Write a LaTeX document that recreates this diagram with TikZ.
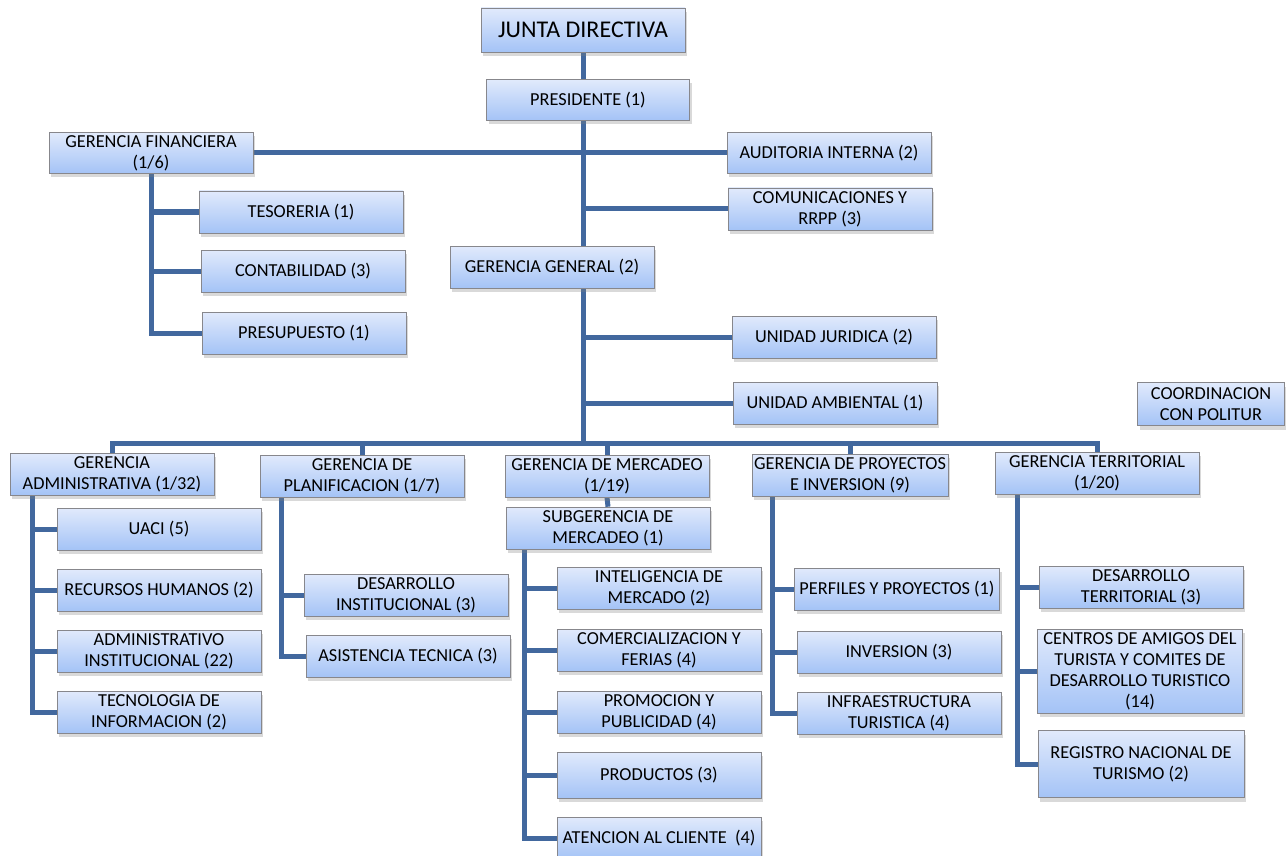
\documentclass[tikz,border=0pt]{standalone}
\usepackage{fontspec}
\setmainfont{Carlito}
\usetikzlibrary{positioning,shadows,backgrounds}
\definecolor{boxtop}{RGB}{225,234,252}
\definecolor{boxbot}{RGB}{164,195,246}
\definecolor{boxline}{RGB}{135,135,140}
\definecolor{linkblue}{RGB}{66,104,158}
\newcommand\orgfont{\fontsize{18.3}{21}\selectfont}
\tikzset{x=1pt, y=-1pt,
unit/.style ={draw=boxline, semithick, top color=boxtop, bottom color=boxbot,
  drop shadow={shadow xshift=2pt, shadow yshift=-4pt, opacity=0.3},
  minimum width=204pt, minimum height=42pt, inner sep=1pt, align=center, font=\orgfont},
link/.style ={draw=linkblue, line width=5pt}}

\begin{document}
\begin{tikzpicture}
\useasboundingbox (0,0) rectangle (1286,856);
\node[unit, minimum height=44pt, font=\fontsize{24}{28}\selectfont] (jd) at (583,30) {JUNTA DIRECTIVA};
\node[unit, minimum width=203pt, minimum height=41pt] (pres) at (588,100) {PRESIDENTE (1)};
\node[unit, minimum height=41pt] (fin) at (151,153) {GERENCIA FINANCIERA\\(1/6)};
\node[unit, minimum height=41pt] (aud) at (829,153) {AUDITORIA INTERNA (2)};
\node[unit] (com) at (830,209) {COMUNICACIONES Y\\RRPP (3)};
\node[unit] (tes) at (301,212) {TESORERIA (1)};
\node[unit] (con) at (303,271) {CONTABILIDAD (3)};
\node[unit] (pre) at (304,333) {PRESUPUESTO (1)};
\node[unit] (gg) at (552,267) {GERENCIA GENERAL (2)};
\node[unit] (jur) at (834,337) {UNIDAD JURIDICA (2)};
\node[unit] (amb) at (835,403) {UNIDAD AMBIENTAL (1)};
\node[unit, minimum width=147pt, minimum height=43pt] (pol) at (1211,404) {COORDINACION\\CON POLITUR};
\node[unit] (adm) at (112,474) {GERENCIA\\ADMINISTRATIVA (1/32)};
\node[unit] (pla) at (362,476) {GERENCIA DE\\PLANIFICACION (1/7)};
\node[unit] (mer) at (607,476) {GERENCIA DE MERCADEO\\(1/19)};
\node[unit, minimum width=196pt] (pro) at (850,475) {GERENCIA DE PROYECTOS\\E INVERSION (9)};
\node[unit] (ter) at (1097,473) {GERENCIA TERRITORIAL\\(1/20)};
\node[unit] (sub) at (608,528) {SUBGERENCIA DE\\MERCADEO (1)};
\node[unit] (uaci) at (159,529) {UACI (5)};
\node[unit] (rh) at (159,590) {RECURSOS HUMANOS (2)};
\node[unit] (ai) at (159,651) {ADMINISTRATIVO\\INSTITUCIONAL (22)};
\node[unit] (ti) at (159,712) {TECNOLOGIA DE\\INFORMACION (2)};
\node[unit] (di) at (406,595) {DESARROLLO\\INSTITUCIONAL (3)};
\node[unit] (at) at (408,656) {ASISTENCIA TECNICA (3)};
\node[unit] (im) at (659,588) {INTELIGENCIA DE\\MERCADO (2)};
\node[unit] (cf) at (659,650) {COMERCIALIZACION Y\\FERIAS (4)};
\node[unit] (pp) at (659,712) {PROMOCION Y\\PUBLICIDAD (4)};
\node[unit, minimum height=46pt] (prd) at (659,775) {PRODUCTOS (3)};
\node[unit] (ac) at (659,838) {ATENCION AL CLIENTE\ \ (4)};
\node[unit, minimum width=205pt] (pyp) at (897,589) {PERFILES Y PROYECTOS (1)};
\node[unit] (inv) at (899,652) {INVERSION (3)};
\node[unit] (inf) at (899,713) {INFRAESTRUCTURA\\TURISTICA (4)};
\node[unit] (dt) at (1141,587) {DESARROLLO\\TERRITORIAL (3)};
\node[unit, minimum width=205pt, minimum height=84pt] (cat) at (1140,671) {CENTROS DE AMIGOS DEL\\TURISTA Y COMITES DE\\DESARROLLO TURISTICO\\(14)};
\node[unit, minimum width=206pt, minimum height=67pt] (rn) at (1141,764) {REGISTRO NACIONAL DE\\TURISMO (2)};
\coordinate (bus) at (583,443);
\begin{scope}[on background layer]
\draw[link] (jd.south) -- (bus);
\draw[link] (fin.east) -- (aud.west);
\draw[link] (com.west) -- (com.west -| bus)
            (jur.west) -- (jur.west -| bus)
            (amb.west) -- (amb.west -| bus);
\draw[link] (fin.south) |- (tes.west)
            (fin.south) |- (con.west)
            (fin.south) |- (pre.west);
\draw[link] (adm.north) |- (bus) -| (ter.north);
\draw[link] (pla.north) -- (pla.north |- bus)
            (mer.north) -- (mer.north |- bus)
            (pro.north) -- (pro.north |- bus);
\draw[link] (mer.south) -- (sub.north);
\draw[link] ([xshift=-80pt]adm.south) |- (uaci.west)
            ([xshift=-80pt]adm.south) |- (rh.west)
            ([xshift=-80pt]adm.south) |- (ai.west)
            ([xshift=-80pt]adm.south) |- (ti.west);
\draw[link] ([xshift=-81pt]pla.south) |- (di.west)
            ([xshift=-81pt]pla.south) |- (at.west);
\draw[link] ([xshift=-84pt]sub.south) |- (im.west)
            ([xshift=-84pt]sub.south) |- (cf.west)
            ([xshift=-84pt]sub.south) |- (pp.west)
            ([xshift=-84pt]sub.south) |- (prd.west)
            ([xshift=-84pt]sub.south) |- (ac.west);
\draw[link] ([xshift=-78pt]pro.south) |- (pyp.west)
            ([xshift=-78pt]pro.south) |- (inv.west)
            ([xshift=-78pt]pro.south) |- (inf.west);
\draw[link] ([xshift=-80pt]ter.south) |- (dt.west)
            ([xshift=-80pt]ter.south) |- (cat.west)
            ([xshift=-80pt]ter.south) |- (rn.west);
\end{scope}
\end{tikzpicture}
\end{document}
